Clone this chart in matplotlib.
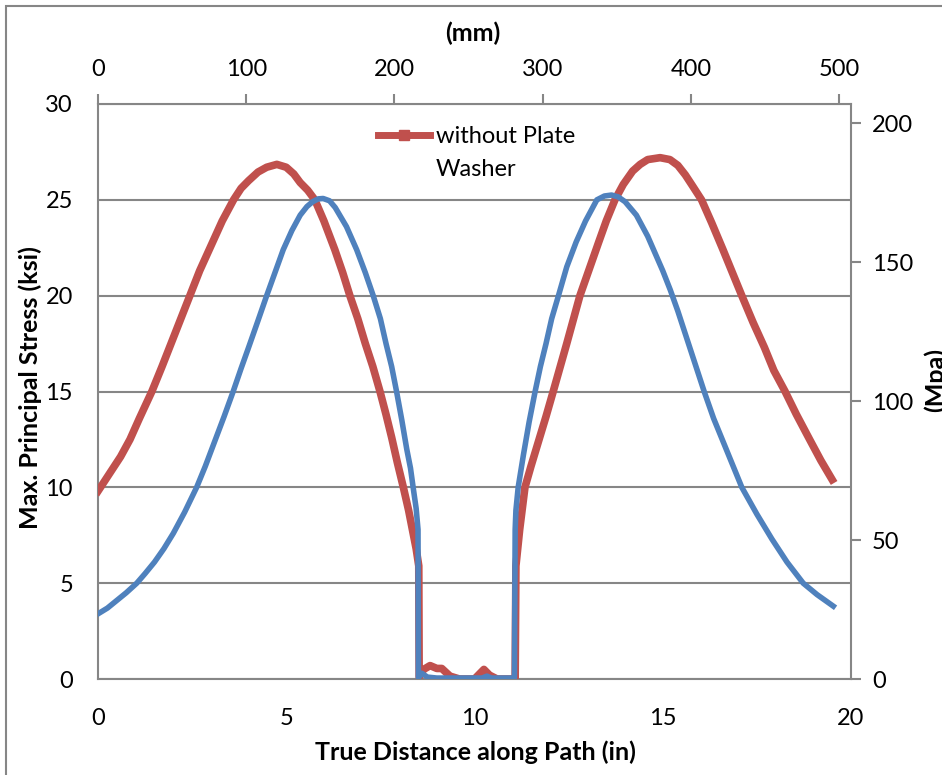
import matplotlib
matplotlib.use("Agg")
import matplotlib.pyplot as plt
from matplotlib.lines import Line2D
from matplotlib.patches import Rectangle

plt.rcParams['font.family'] = ['Lato', 'DejaVu Sans']

# ======================================
# Data (in, ksi)
# ======================================

red_x = [0.0, 0.2, 0.4, 0.6, 0.85, 1.1, 1.43, 1.7, 2.0, 2.2, 2.44, 2.7, 3.0, 3.3,
         3.6, 3.8, 4.0, 4.25, 4.48, 4.75, 5.0, 5.2, 5.37, 5.57, 5.76, 6.0, 6.29,
         6.5, 6.69, 6.9, 7.1, 7.3, 7.49, 7.65, 7.8, 7.95, 8.11, 8.25, 8.35, 8.45,
         8.52, 8.53, 8.65, 8.82, 9.0, 9.13, 9.35, 9.6, 10.0, 10.1, 10.25, 10.4,
         10.6, 11.08, 11.1, 11.2, 11.34, 11.5, 11.7, 11.9, 12.09, 12.45, 12.8,
         13.05, 13.3, 13.5, 13.73, 13.95, 14.2, 14.4, 14.6, 14.93, 15.19, 15.4,
         15.6, 15.8, 16.03, 16.3, 16.6, 16.85, 17.1, 17.4, 17.7, 17.95, 18.25,
         18.55, 18.9, 19.2, 19.5]
red_y = [9.8, 10.4, 11.0, 11.6, 12.5, 13.6, 15.0, 16.3, 17.8, 18.8, 20.0, 21.3,
         22.6, 23.9, 25.0, 25.6, 26.0, 26.45, 26.7, 26.85, 26.7, 26.35, 25.9,
         25.5, 25.0, 23.9, 22.4, 21.2, 20.0, 18.8, 17.5, 16.3, 15.0, 13.8, 12.6,
         11.3, 10.0, 8.8, 7.8, 6.8, 5.9, 0.1, 0.5, 0.7, 0.55, 0.55, 0.15, 0.0,
         0.0, 0.2, 0.5, 0.2, 0.0, 0.0, 5.9, 7.8, 10.0, 11.1, 12.4, 13.7, 15.0,
         17.5, 20.0, 21.4, 22.8, 23.9, 25.0, 25.8, 26.5, 26.85, 27.1, 27.2,
         27.1, 26.8, 26.3, 25.7, 25.0, 23.8, 22.4, 21.2, 20.0, 18.6, 17.3, 16.1,
         15.0, 13.8, 12.5, 11.4, 10.4]

blue_x = [0.0, 0.25, 0.5, 0.75, 1.03, 1.25, 1.5, 1.75, 2.0, 2.3, 2.62, 2.85, 3.1,
          3.35, 3.59, 3.8, 4.0, 4.25, 4.48, 4.7, 4.92, 5.15, 5.37, 5.55, 5.7,
          5.85, 5.98, 6.15, 6.3, 6.6, 6.87, 7.1, 7.31, 7.5, 7.65, 7.8, 7.93, 8.07,
          8.2, 8.3, 8.37, 8.45, 8.5, 8.51, 8.6, 8.75, 9.0, 10.2, 10.33, 10.45,
          11.06, 11.08, 11.1, 11.16, 11.3, 11.45, 11.61, 11.75, 11.9, 12.05,
          12.23, 12.45, 12.7, 12.95, 13.25, 13.45, 13.64, 13.82, 14.0, 14.3, 14.6,
          14.8, 15.0, 15.2, 15.4, 15.6, 15.85, 16.1, 16.35, 16.6, 16.85, 17.1,
          17.5, 17.9, 18.3, 18.73, 19.1, 19.53]
blue_y = [3.4, 3.7, 4.1, 4.5, 5.0, 5.5, 6.1, 6.8, 7.6, 8.7, 10.0, 11.1, 12.4,
          13.7, 15.0, 16.2, 17.3, 18.7, 20.0, 21.2, 22.4, 23.4, 24.2, 24.65,
          24.9, 25.05, 25.07, 24.95, 24.6, 23.6, 22.4, 21.2, 20.0, 18.8, 17.5,
          16.3, 15.0, 13.5, 12.0, 11.0, 10.0, 8.9, 7.8, 0.05, 0.3, 0.1, 0.05,
          0.05, 0.15, 0.05, 0.05, 7.8, 8.8, 10.0, 11.7, 13.4, 15.0, 16.3, 17.5,
          18.8, 20.0, 21.5, 22.8, 23.9, 25.0, 25.2, 25.25, 25.15, 24.9, 24.2,
          23.1, 22.2, 21.3, 20.3, 19.2, 18.0, 16.5, 15.0, 13.6, 12.4, 11.2, 10.0,
          8.6, 7.3, 6.1, 5.0, 4.4, 3.8]

ksi_ticks = [0, 5, 10, 15, 20, 25, 30]
in_ticks = [0, 5, 10, 15, 20]
mm_ticks = [0, 100, 200, 300, 400, 500]
mpa_ticks = [0, 50, 100, 150, 200]

RED = "#C0504D"
BLUE = "#4F81BD"
GRAY = "#868686"

# ======================================
# Figure
# ======================================

fig = plt.figure(figsize=(9.42, 7.75), dpi=100)
ax = fig.add_axes([98/942, 1-679/775, (851-98)/942, (679-104)/775])

ax.plot(red_x, red_y, color=RED, lw=5.5, solid_joinstyle='round', zorder=3)
ax.plot(blue_x, blue_y, color=BLUE, lw=4, solid_joinstyle='round', zorder=4)

ax.set_xlim(0, 20)
ax.set_ylim(0, 30)
ax.set_xticks(in_ticks)
ax.set_yticks(ksi_ticks)
ax.yaxis.grid(True, color=GRAY, lw=1.5)
ax.set_axisbelow(True)

for s in ['top', 'right']:
    ax.spines[s].set_visible(False)
for s in ['left', 'bottom']:
    ax.spines[s].set_color(GRAY)
    ax.spines[s].set_linewidth(1.5)
ax.tick_params(axis='x', length=0, pad=21, labelsize=17)
ax.tick_params(axis='y', length=0, pad=18, labelsize=17)

# top axis in mm
top = ax.secondary_xaxis('top', functions=(lambda x: x * 25.4, lambda x: x / 25.4))
top.set_xticks(mm_ticks)
top.tick_params(length=7, width=1.5, color=GRAY, pad=10, labelsize=17)
top.spines['top'].set_color(GRAY)
top.spines['top'].set_linewidth(1.5)

# right axis in MPa
right = ax.secondary_yaxis('right', functions=(lambda y: y * 6.895, lambda y: y / 6.895))
right.set_yticks(mpa_ticks)
right.tick_params(length=7, width=1.5, color=GRAY, pad=8, labelsize=17)
right.spines['right'].set_color(GRAY)
right.spines['right'].set_linewidth(1.5)

# axis titles
fig.text(473/942, 1-33/775, "(mm)", ha='center', va='center', fontsize=18, fontweight='bold')
fig.text(30/942, 1-388/775, "Max. Principal Stress (ksi)", ha='center', va='center',
         rotation=90, fontsize=18, fontweight='bold')
fig.text(475/942, 1-752/775, "True Distance along Path (in)", ha='center', va='center',
         fontsize=18, fontweight='bold')
fig.text(924/942, 1-380/775, "(Mpa)", ha='left', va='center', rotation=90,
         fontsize=18, fontweight='bold')

# legend (label wraps onto a second line like in the source chart)
handle = Line2D([], [], color=RED, lw=5, marker='s', markersize=7)
blank = Line2D([], [], color='none')
ax.legend([handle, blank], ["without Plate", "Washer"], loc='upper left',
          bbox_to_anchor=(378/942, 1-126/775), bbox_transform=fig.transFigure,
          frameon=False, fontsize=17, handlelength=2.2, handletextpad=0.25,
          labelspacing=0.5, borderpad=0, borderaxespad=0)

# outer chart border (cropped on right and bottom)
fig.patches.append(Rectangle((6/942, -0.1), 1.2, 1.1 - 6/775, transform=fig.transFigure,
                             fill=False, edgecolor=GRAY, lw=1.5))

fig.savefig("out.png", dpi=100)
